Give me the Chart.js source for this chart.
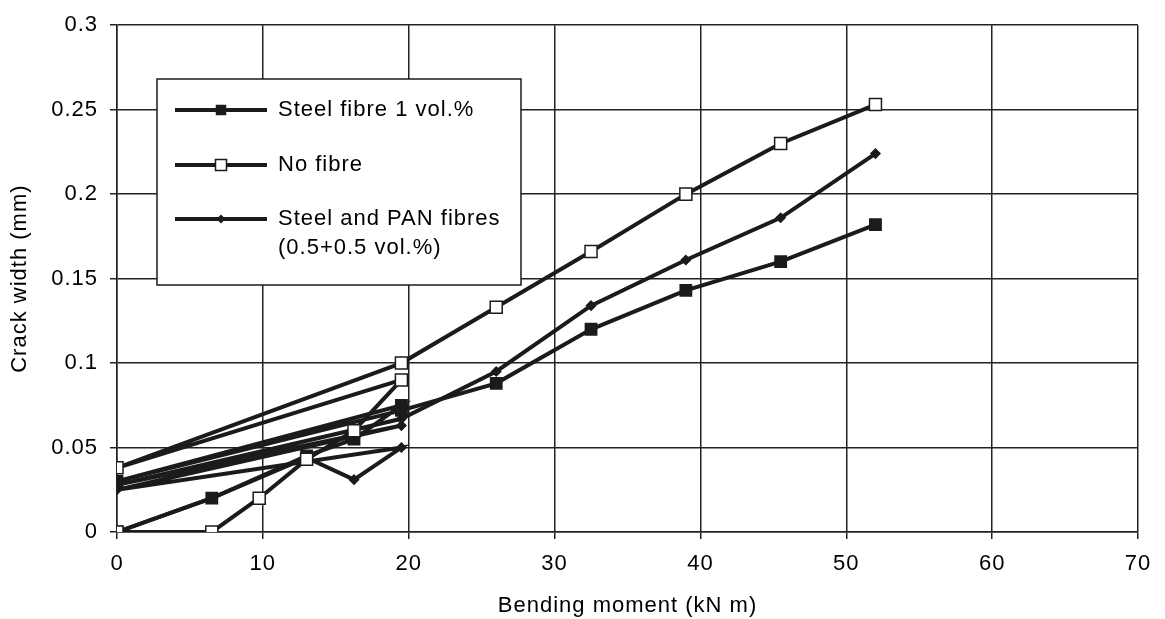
<!DOCTYPE html>
<html>
<head>
  <title>Crack width vs bending moment</title>
  <script src="https://cdn.jsdelivr.net/npm/chart.js"></script>
  <style>
    html, body { margin: 0; padding: 0; background: #fff; }
    #wrap { width: 1165px; height: 619px; }
  </style>
</head>
<body>
  <div id="wrap"><canvas id="myChart"></canvas></div>

  <script>
    // load cycles: loading to 19.5 kN m, unloading to 0, reloading, then on to failure
    const seriesLabels = ['Steel fibre 1 vol.%', 'No fibre', 'Steel and PAN fibres'];
    const steelX = [0, 6.5, 13, 16.25, 19.5, 0, 19.5, 26, 32.5, 39, 45.5, 52];
    const steelY = [0, 0.02, 0.045, 0.055, 0.075, 0.03, 0.072, 0.088, 0.12, 0.143, 0.16, 0.182];
    const noFibreX = [0, 6.5, 9.75, 13, 16.25, 19.5, 0, 19.5, 26, 32.5, 39, 45.5, 52];
    const noFibreY = [0, 0, 0.02, 0.043, 0.06, 0.09, 0.038, 0.1, 0.133, 0.166, 0.2, 0.23, 0.253];
    const panX = [0, 6.5, 13, 16.25, 19.5, 0, 19.5, 0, 19.5, 26, 32.5, 39, 45.5, 52];
    const panY = [0, 0.02, 0.044, 0.031, 0.05, 0.025, 0.063, 0.028, 0.067, 0.095, 0.134, 0.161, 0.186, 0.224];
    const xTicks = [0, 10, 20, 30, 40, 50, 60, 70];
    const yTicks = [0, 0.05, 0.1, 0.15, 0.2, 0.25, 0.3];

    const FONT = "'Liberation Sans', Arial, sans-serif";
    const SIZE = 22;
    const INK = '#1b1b1b';

    function pairs(xs, ys) {
      return xs.map((x, i) => ({ x: x, y: ys[i] }));
    }

    const marks = [
      { style: 'rect', radius: 8, fill: INK, border: INK },
      { style: 'rect', radius: 8.5, fill: '#fff', border: INK },
      { style: 'rectRot', radius: 4.5, fill: INK, border: INK }
    ];

    // slightly spaced lettering everywhere
    const spacing = {
      id: 'spacing',
      beforeLayout(chart) { chart.ctx.letterSpacing = '1px'; },
      beforeDraw(chart) { chart.ctx.letterSpacing = '1px'; }
    };

    // boxed legend drawn inside the plot area
    const boxLegend = {
      id: 'boxLegend',
      afterDraw(chart) {
        const ctx = chart.ctx;
        const left = 157, top = 79, w = 364, h = 206;
        ctx.save();
        ctx.fillStyle = '#fff';
        ctx.fillRect(left, top, w, h);
        ctx.strokeStyle = INK;
        ctx.lineWidth = 1.5;
        ctx.strokeRect(left, top, w, h);

        const rows = [110, 165, 219];
        ctx.font = SIZE + 'px ' + FONT;
        ctx.textBaseline = 'middle';
        rows.forEach((y, i) => {
          ctx.strokeStyle = INK;
          ctx.lineWidth = 4;
          ctx.beginPath();
          ctx.moveTo(175, y);
          ctx.lineTo(267, y);
          ctx.stroke();
          const m = marks[i];
          ctx.fillStyle = m.fill;
          ctx.lineWidth = 1.5;
          if (m.style === 'rectRot') {
            ctx.beginPath();
            ctx.moveTo(221, y - 4.5);
            ctx.lineTo(225.5, y);
            ctx.lineTo(221, y + 4.5);
            ctx.lineTo(216.5, y);
            ctx.closePath();
            ctx.fill();
          } else {
            const s = i === 0 ? 9 : 11;
            ctx.fillRect(221 - s / 2, y - s / 2, s, s);
            ctx.strokeRect(221 - s / 2, y - s / 2, s, s);
          }
          ctx.fillStyle = '#000';
          ctx.fillText(seriesLabels[i], 278, y);
        });
        ctx.fillText('(0.5+0.5 vol.%)', 278, 248);
        ctx.restore();
      }
    };

    document.addEventListener('DOMContentLoaded', () => {
      const ctx = document.getElementById('myChart').getContext('2d');
      const sets = [pairs(steelX, steelY), pairs(noFibreX, noFibreY), pairs(panX, panY)];

      new Chart(ctx, {
        type: 'scatter',
        data: {
          datasets: sets.map((d, i) => ({
            label: seriesLabels[i],
            data: d,
            showLine: true,
            borderColor: INK,
            borderWidth: 4,
            pointStyle: marks[i].style,
            pointRadius: marks[i].radius,
            pointBackgroundColor: marks[i].fill,
            pointBorderColor: marks[i].border,
            pointBorderWidth: 1.5,
            order: i === 1 ? 0 : i + 1
          }))
        },
        options: {
          responsive: true,
          maintainAspectRatio: false,
          animation: false,
          layout: { padding: { top: 22, right: 27, left: 0, bottom: 0 } },
          plugins: {
            legend: { display: false },
            tooltip: { enabled: false }
          },
          scales: {
            x: {
              type: 'linear',
              min: 0,
              max: 70,
              afterBuildTicks: s => { s.ticks = xTicks.map(v => ({ value: v })); },
              afterFit: s => { s.height = 87; },
              grid: { color: '#222', lineWidth: 1.5, tickLength: 7 },
              border: { color: '#222', width: 1.5 },
              ticks: { color: '#000', padding: 12, font: { family: FONT, size: SIZE } },
              title: {
                display: true,
                text: 'Bending moment (kN m)',
                color: '#000',
                font: { family: FONT, size: SIZE },
                padding: { top: 0, bottom: 0 }
              }
            },
            y: {
              type: 'linear',
              min: 0,
              max: 0.3,
              afterBuildTicks: s => { s.ticks = yTicks.map(v => ({ value: v })); },
              afterFit: s => { s.width = 117; },
              grid: { color: '#222', lineWidth: 1.5, tickLength: 7 },
              border: { color: '#222', width: 1.5 },
              ticks: {
                color: '#000',
                padding: 12,
                font: { family: FONT, size: SIZE },
                callback: v => String(Math.round(v * 100) / 100)
              },
              title: {
                display: true,
                text: 'Crack width (mm)',
                color: '#000',
                font: { family: FONT, size: SIZE },
                padding: { top: 7, bottom: 0 }
              }
            }
          }
        },
        plugins: [spacing, boxLegend]
      });
    });
  </script>
</body>
</html>
